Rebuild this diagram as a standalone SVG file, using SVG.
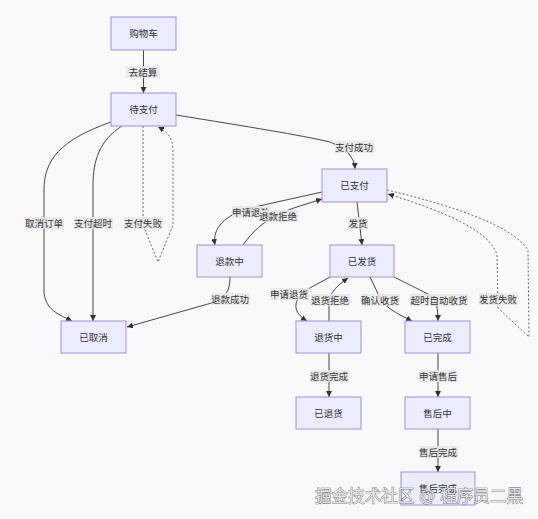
<svg xmlns="http://www.w3.org/2000/svg" width="538" height="519" viewBox="0 0 538 519">
<style>
text{font-family:'Liberation Sans','Noto Sans CJK SC',sans-serif;font-size:9.5px;fill:#333;text-anchor:middle;dominant-baseline:central}
.node rect{fill:#ECECFF;stroke:#9d90d4;stroke-width:1}
.edge{fill:none;stroke:#333;stroke-width:0.9;marker-end:url(#arr)}
.dash{stroke-dasharray:2,2;stroke:#555}
.lbl rect{fill:#e8e8e8;opacity:0.85}
.wm{font-size:17px;fill:#e6e6e6;stroke:#555;stroke-width:0.7;paint-order:stroke;text-anchor:start;dominant-baseline:auto}
</style>
<defs>
<marker id="arr" viewBox="0 0 10 10" refX="10" refY="5" markerWidth="6" markerHeight="6" markerUnits="userSpaceOnUse" orient="auto"><path d="M0,0 L10,5 L0,10 z" fill="#333"/></marker>
</defs>
<rect width="538" height="519" fill="#f9f9fb"/>
<g id="connectors">
<path class="edge" d="M143.5,50 L143.5,93"/>
<path class="edge" d="M176,115 C250,127 300,135 330,142 Q354,150 355,169"/>
<path class="edge" d="M111,122 C60,140 44,160 44,190 L44,290 C44,310 60,315 72,321"/>
<path class="edge" d="M122,126 C100,140 93,160 93,185 L93,321"/>
<path class="edge dash" d="M143,126 L143,225 L158,262 L173,225 L173,150 C173,137 166,131 158,127"/>
<path class="edge" d="M322,192 L250,208 C225,215 212,228 215,245"/>
<path class="edge" d="M243,245 C255,228 270,215 300,206 L322,199"/>
<path class="edge" d="M357,202 L362,245"/>
<path class="edge dash" d="M387,190 C450,205 512,225 528,250 L529,337 L498,308 L497,255 C490,230 440,210 388,194"/>
<path class="edge" d="M330,277 L308,289 C292,300 292,312 307,321"/>
<path class="edge" d="M329,321 L329,305 C329,292 338,285 348,278"/>
<path class="edge" d="M370,277 L380,298 C385,308 400,315 412,321"/>
<path class="edge" d="M394,277 L430,295 C437,300 438,310 438,321"/>
<path class="edge" d="M230,277 C230,290 226,298 215,302 L127,327"/>
<path class="edge" d="M329,353 L329,397"/>
<path class="edge" d="M438,353 L438,397"/>
<path class="edge" d="M438,429 L438,472"/>
</g>
<g id="edge-labels">
<g class="lbl"><rect x="126" y="66" width="34" height="12"/><text x="143" y="72">去结算</text></g>
<g class="lbl"><rect x="335" y="141" width="39" height="12"/><text x="354" y="147">支付成功</text></g>
<g class="lbl"><rect x="25" y="217" width="39" height="12"/><text x="44" y="223">取消订单</text></g>
<g class="lbl"><rect x="74" y="217" width="39" height="12"/><text x="93" y="223">支付超时</text></g>
<g class="lbl"><rect x="124" y="217" width="39" height="12"/><text x="143" y="223">支付失败</text></g>
<g class="lbl"><rect x="232" y="206" width="39" height="12"/><text x="251" y="212">申请退款</text></g>
<g class="lbl"><rect x="259" y="210" width="39" height="12"/><text x="278" y="216">退款拒绝</text></g>
<g class="lbl"><rect x="348" y="217" width="20" height="12"/><text x="358" y="223">发货</text></g>
<g class="lbl"><rect x="479" y="293" width="39" height="12"/><text x="498" y="299">发货失败</text></g>
<g class="lbl"><rect x="270" y="288" width="39" height="12"/><text x="289" y="294">申请退货</text></g>
<g class="lbl"><rect x="311" y="294" width="39" height="12"/><text x="330" y="300">退货拒绝</text></g>
<g class="lbl"><rect x="361" y="294" width="39" height="12"/><text x="380" y="300">确认收货</text></g>
<g class="lbl"><rect x="410" y="294" width="58" height="12"/><text x="439" y="300">超时自动收货</text></g>
<g class="lbl"><rect x="211" y="293" width="39" height="12"/><text x="230" y="299">退款成功</text></g>
<g class="lbl"><rect x="310" y="370" width="39" height="12"/><text x="329" y="376">退货完成</text></g>
<g class="lbl"><rect x="419" y="370" width="39" height="12"/><text x="438" y="376">申请售后</text></g>
<g class="lbl"><rect x="419" y="446" width="39" height="12"/><text x="438" y="452">售后完成</text></g>
</g>
<g id="n-cart" class="node"><rect x="111" y="17" width="65" height="33"/><text x="143.5" y="33.5">购物车</text></g>
<g id="n-pending" class="node"><rect x="111" y="93" width="65" height="33"/><text x="143.5" y="109.5">待支付</text></g>
<g id="n-paid" class="node"><rect x="322" y="169" width="65" height="33"/><text x="354.5" y="185.5">已支付</text></g>
<g id="n-refunding" class="node"><rect x="197" y="245" width="65" height="32"/><text x="229.5" y="261">退款中</text></g>
<g id="n-shipped" class="node"><rect x="330" y="245" width="64" height="32"/><text x="362" y="261">已发货</text></g>
<g id="n-cancelled" class="node"><rect x="61" y="321" width="65" height="32"/><text x="93.5" y="337">已取消</text></g>
<g id="n-returning" class="node"><rect x="296" y="321" width="65" height="32"/><text x="328.5" y="337">退货中</text></g>
<g id="n-done" class="node"><rect x="405" y="321" width="65" height="32"/><text x="437.5" y="337">已完成</text></g>
<g id="n-returned" class="node"><rect x="296" y="397" width="65" height="32"/><text x="328.5" y="413">已退货</text></g>
<g id="n-aftersale" class="node"><rect x="405" y="397" width="65" height="32"/><text x="437.5" y="413">售后中</text></g>
<g id="n-aftersale-done" class="node"><rect x="401" y="472" width="74" height="33"/><text x="438" y="488.5">售后完成</text></g>
<text class="wm" x="315" y="502" textLength="208" lengthAdjust="spacingAndGlyphs">掘金技术社区 @ 程序员二黑</text>
</svg>
